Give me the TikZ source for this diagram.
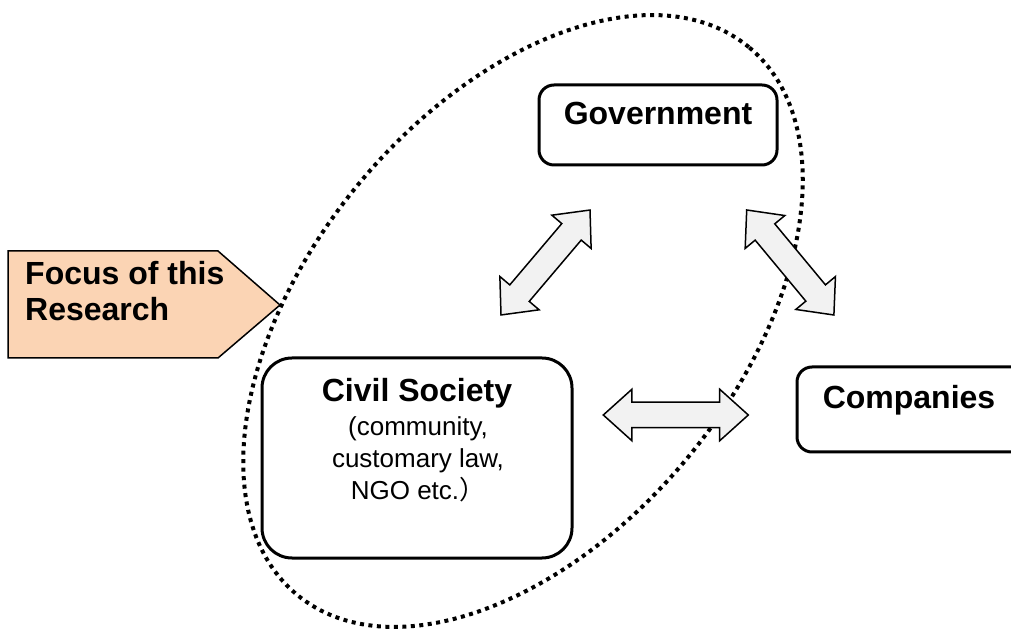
\documentclass[tikz,border=0pt]{standalone}
\usepackage{fontspec}
\setmainfont{Liberation Sans}
\newfontfamily\cjk{Noto Sans CJK SC}
\usetikzlibrary{shapes.arrows,positioning}
\definecolor{peach}{RGB}{251,212,180}
\definecolor{arrowgray}{RGB}{242,242,242}

\begin{document}
\begin{tikzpicture}[x=1pt,y=1pt,
  box/.style={draw,fill=white,line width=3pt,rounded corners=15pt,inner sep=0pt},
  head/.style={font=\fontsize{32}{36}\selectfont\bfseries,inner sep=0pt},
  body/.style={font=\fontsize{26}{32}\selectfont,align=center,inner sep=0pt},
  twoway/.style={double arrow,draw,line width=1.5pt,fill=arrowgray,inner xsep=0pt,inner ysep=12pt,
    minimum width=50pt,double arrow head extend=13pt,double arrow tip angle=84}]

\useasboundingbox (0,0) rectangle (1011,629);

%Focus marker
\draw[fill=peach,line width=1.5pt] (8,378) -- (218,378) -- (280,324) -- (218,271) -- (8,271) -- cycle;
\node[head,anchor=north west,align=left] (focus) at (25,368) {Focus of this\\Research};

%Dotted ellipse round the focus
\draw[line width=4pt,dash pattern=on 4pt off 4.5pt,rotate around={50.5:(523,308)}]
  (523,308) ellipse [x radius=355,y radius=214];

%Boxes
\node[box,minimum width=238pt,minimum height=80pt] (gov) at (658,504) {};
\node[head,anchor=base] (govtext) at (658,504.5) {Government};

\node[box,rounded corners=30pt,minimum width=310pt,minimum height=200pt] (civil) at (417,171) {};
\node[head,anchor=base] (civiltitle) at (417,227) {Civil Society};
\node[body,anchor=north] (civilbody) at (418,213) {(community,\\customary law,\\NGO etc.{\cjk ）}};

\node[box,minimum width=240pt,minimum height=85pt] (comp) at (917,219.5) {};
\node[head,anchor=base] (comptext) at (909,220.5) {Companies};

%Two-way arrows
\node[twoway,minimum height=137.6pt,rotate=49.7] (civgov) at (545.5,366.5) {};
\node[twoway,minimum height=136.5pt,rotate=-50.3] (govcomp) at (790.3,366.5) {};
\node[twoway,minimum height=145pt] (civcomp) at (675.8,214) {};

\end{tikzpicture}
\end{document}
